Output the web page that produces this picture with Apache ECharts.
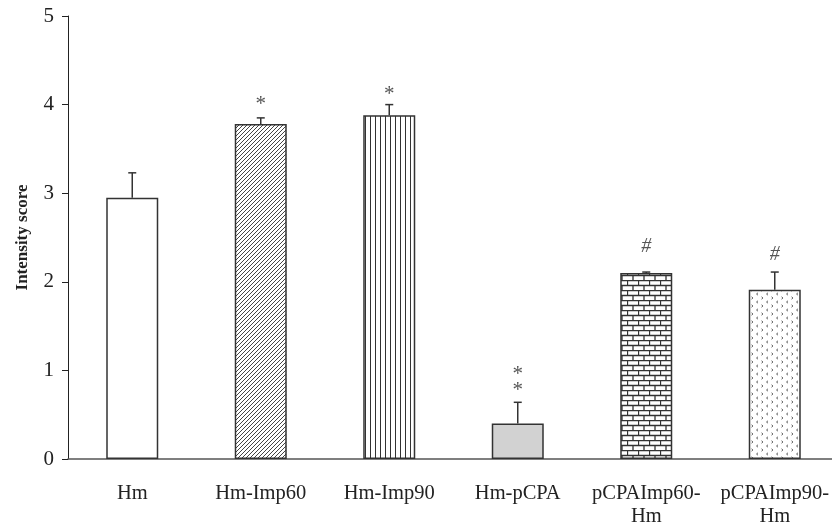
<!DOCTYPE html>
<html><head><meta charset="utf-8">
<script src="https://cdn.jsdelivr.net/npm/echarts@6/dist/echarts.min.js"></script>
<style>html,body{margin:0;padding:0;background:#fff}#c{width:832px;height:525px}</style>
</head><body><div id="c"></div>
<script>
const categories = ['Hm','Hm-Imp60','Hm-Imp90','Hm-pCPA','pCPAImp60-\nHm','pCPAImp90-\nHm'];
const means = [2.95, 3.78, 3.88, 0.40, 2.10, 1.91];
const errTop = [3.23, 3.85, 4.00, 0.64, 2.11, 2.11];
const marks = ['', '*', '*', '*\n*', '#', '#'];
const markY = [null, 4.03, 4.15, 0.895, 2.39, 2.30];
const yTicks = [0,1,2,3,4,5];

function pat(w,h,draw){
  const c=document.createElement('canvas');c.width=w;c.height=h;
  const g=c.getContext('2d');g.fillStyle='#fff';g.fillRect(0,0,w,h);draw(g);
  return {image:c,repeat:'repeat'};
}
const fills = [
  '#ffffff',
  pat(4,4,g=>{g.strokeStyle='#444';g.lineWidth=1;g.beginPath();
    g.moveTo(-1,5);g.lineTo(5,-1);g.moveTo(-1,1);g.lineTo(1,-1);g.moveTo(3,5);g.lineTo(5,3);g.stroke();}),
  pat(5,5,g=>{g.strokeStyle='#333';g.lineWidth=1;g.beginPath();g.moveTo(0.5,0);g.lineTo(0.5,5);g.stroke();}),
  '#d2d2d2',
  pat(11,10,g=>{g.strokeStyle='#333';g.lineWidth=1.3;g.beginPath();
    g.moveTo(0,0.5);g.lineTo(11,0.5);g.moveTo(0,5.5);g.lineTo(11,5.5);
    g.moveTo(0.5,0);g.lineTo(0.5,5);g.moveTo(6,5);g.lineTo(6,10);g.stroke();}),
  pat(10,8,g=>{g.strokeStyle='#666';g.lineWidth=1;g.beginPath();
    g.moveTo(1.5,0.8);g.lineTo(3,2);g.lineTo(1.5,3.2);
    g.moveTo(8,4.8);g.lineTo(6.5,6);g.lineTo(8,7.2);g.stroke();})
];

const chart = echarts.init(document.getElementById('c'), null, {renderer:'canvas'});
const serif = '"Liberation Serif","DejaVu Serif",serif';
chart.setOption({
  animation:false,
  backgroundColor:'#fff',
  grid:{left:68, top:16, width:771, height:443, containLabel:false, outerBoundsMode:'none'},
  xAxis:{type:'category', data:categories,
    axisLine:{lineStyle:{color:'#555', width:1.5}},
    axisTick:{show:false},
    axisLabel:{interval:0, margin:23, color:'#222', fontFamily:serif, fontSize:20.5, lineHeight:23}
  },
  yAxis:{type:'value', min:0, max:5, interval:1,
    name:'Intensity score', nameLocation:'middle', nameGap:37,
    nameTextStyle:{fontFamily:serif, fontSize:17, fontWeight:'bold', color:'#222'},
    axisLine:{show:true, lineStyle:{color:'#222', width:1}},
    axisTick:{show:true, inside:false, length:6, lineStyle:{color:'#222'}},
    axisLabel:{margin:14, color:'#222', fontFamily:serif, fontSize:21,
      formatter:v=>yTicks.includes(v)?String(v):''},
    splitLine:{show:false}
  },
  series:[
    {type:'bar', barWidth:52,
     data:means.map((v,i)=>({value:v, itemStyle:{color:fills[i], borderColor:'#333', borderWidth:1.5}}))},
    {type:'custom', z:5,
     data:means.map((v,i)=>[i, v, errTop[i]]),
     renderItem:(p,api)=>{
       const b=api.coord([api.value(0),api.value(1)]);
       const t=api.coord([api.value(0),api.value(2)]);
       const s={stroke:'#333', lineWidth:1.5};
       return {type:'group', children:[
         {type:'line', shape:{x1:b[0],y1:b[1],x2:t[0],y2:t[1]}, style:s},
         {type:'line', shape:{x1:t[0]-4,y1:t[1],x2:t[0]+4,y2:t[1]}, style:s}
       ]};
     }},
    {type:'custom', z:6,
     data:marks.map((m,i)=>[i, markY[i]==null?0:markY[i], m]),
     renderItem:(p,api)=>{
       const txt=marks[p.dataIndex]; if(!txt) return null;
       const c=api.coord([api.value(0),api.value(1)]);
       const star=txt.indexOf('*')>=0;
       return {type:'text', x:c[0], y:c[1]+(star?3:0), style:{text:txt, fill:'#555',
         font:(star?'21px ':'italic 20px ')+serif, align:'center', verticalAlign:'middle', lineHeight:15.5}};
     }}
  ]
});
</script></body></html>
